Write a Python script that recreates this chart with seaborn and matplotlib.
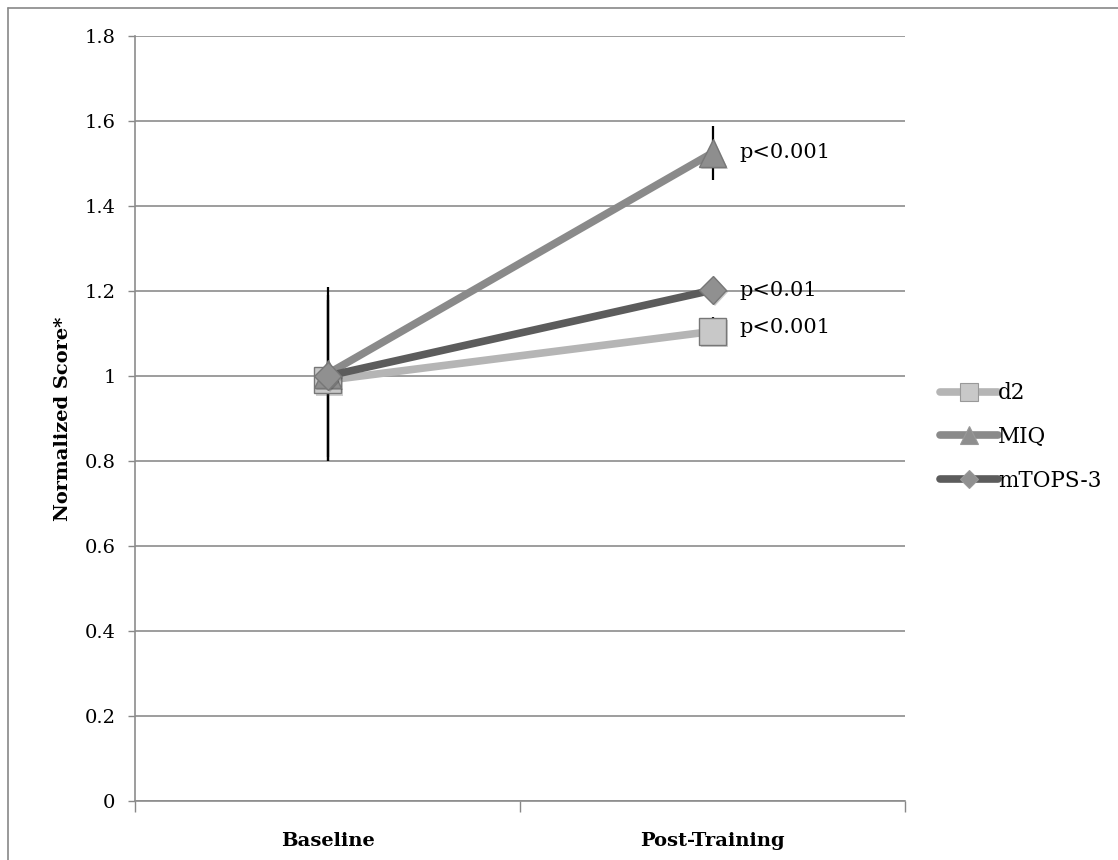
import matplotlib
matplotlib.use("Agg")
import matplotlib.pyplot as plt
import seaborn as sns
import pandas as pd
from matplotlib.lines import Line2D
import matplotlib.patheffects as pe

# ---- data ----
timepoints = ["Baseline", "Post-Training"]
series_names = ["d2", "MIQ", "mTOPS-3"]
d2_vals = [0.99, 1.105]
miq_vals = [1.005, 1.525]
mtops_vals = [1.0, 1.202]
d2_err = [0.19, 0.035]
miq_err = [0.205, 0.063]
mtops_err = [0.19, 0.01]
p_labels = ["p<0.001", "p<0.001", "p<0.01"]  # d2, MIQ, mTOPS-3
y_ticks = [0, 0.2, 0.4, 0.6, 0.8, 1, 1.2, 1.4, 1.6, 1.8]
y_ticklabels = ["0", "0.2", "0.4", "0.6", "0.8", "1", "1.2", "1.4", "1.6", "1.8"]

values = {"d2": d2_vals, "MIQ": miq_vals, "mTOPS-3": mtops_vals}
errors = {"d2": d2_err, "MIQ": miq_err, "mTOPS-3": mtops_err}

rows = []
for s in series_names:
    for i, t in enumerate(timepoints):
        rows.append({"Time": t, "Score": values[s][i], "Series": s})
df = pd.DataFrame(rows)

sns.set_theme(style="white")
plt.rcParams["font.family"] = ["DejaVu Serif"]
plt.rcParams["text.color"] = "black"
plt.rcParams["xtick.color"] = "black"
plt.rcParams["ytick.color"] = "black"
plt.rcParams["axes.labelcolor"] = "black"

colors = {"d2": "#b5b5b5", "MIQ": "#8a8a8a", "mTOPS-3": "#5c5c5c"}
markers = {"d2": "s", "MIQ": "^", "mTOPS-3": "D"}
msizes = {"d2": 19, "MIQ": 20, "mTOPS-3": 14}
mfc = {"d2": "#c8c8c8", "MIQ": "#8e8e8e", "mTOPS-3": "#909090"}
FS = 14

fig = plt.figure(figsize=(11.18, 8.6), dpi=100)
ax = fig.add_axes([135 / 1118, 59 / 860, 770 / 1118, 765 / 860])

# error bars (beneath markers)
for s in series_names:
    ax.errorbar([0, 1], values[s], yerr=errors[s], fmt="none", ecolor="black",
                elinewidth=1.6, capsize=0, zorder=2)

for k, s in enumerate(series_names):
    sub = df[df["Series"] == s]
    sns.lineplot(data=sub, x="Time", y="Score", ax=ax, color=colors[s],
                 linewidth=5.5, marker=markers[s], markersize=msizes[s],
                 markerfacecolor=mfc[s], markeredgecolor="#777777",
                 markeredgewidth=1.0, zorder=3 + k, legend=False,
                 path_effects=[pe.SimplePatchShadow(offset=(1.5, -1.5), alpha=0.25), pe.Normal()])

# p-value labels
ax.text(1.07, values["MIQ"][1], p_labels[1], fontsize=15, va="center", ha="left", zorder=10)
ax.text(1.07, values["mTOPS-3"][1], p_labels[2], fontsize=15, va="center", ha="left", zorder=10)
ax.text(1.07, values["d2"][1] + 0.01, p_labels[0], fontsize=15, va="center", ha="left", zorder=10)

ax.set_xlim(-0.5, 1.5)
ax.set_ylim(0, 1.8)
ax.set_yticks(y_ticks)
ax.set_yticklabels(y_ticklabels, fontsize=FS)
ax.set_xticks([0, 1])
ax.set_xticklabels(timepoints, fontsize=FS, fontweight="bold")
ax.tick_params(axis="x", length=0, pad=22)
ax.tick_params(axis="y", length=5, width=1, color="#888888", direction="out", left=True, pad=9)
ax.set_xticks([-0.5, 0.5, 1.5], minor=True)
ax.tick_params(axis="x", which="minor", length=8, width=1, color="#888888", direction="out", bottom=True)
ax.set_xlabel("")
ax.set_ylabel("Normalized Score*", fontsize=FS, fontweight="bold", labelpad=9)
ax.yaxis.grid(True, color="#8c8c8c", linewidth=1.2)
ax.set_axisbelow(True)
for side in ["top", "right"]:
    ax.spines[side].set_visible(False)
for side in ["left", "bottom"]:
    ax.spines[side].set_color("#8c8c8c")
    ax.spines[side].set_linewidth(1.2)

handles = [Line2D([0], [0], color=colors[s], linewidth=5.5, marker=markers[s],
                  markersize=msizes[s] * 0.65, markerfacecolor=mfc[s],
                  markeredgecolor="#999999", markeredgewidth=0.8)
           for s in series_names]
leg = fig.legend(handles, series_names, loc="center left",
                 bbox_to_anchor=(940 / 1118, 1 - 437 / 860), frameon=False,
                 fontsize=15.5, handlelength=2.7, handletextpad=0.0,
                 labelspacing=1.0, borderaxespad=0, borderpad=0)

# outer frame of the figure
fig.add_artist(Line2D([8 / 1118, 8 / 1118], [0, 1 - 8 / 860], color="#888888",
                      linewidth=1.2, transform=fig.transFigure))
fig.add_artist(Line2D([8 / 1118, 1.0], [1 - 8 / 860, 1 - 8 / 860], color="#888888",
                      linewidth=1.2, transform=fig.transFigure))

fig.savefig("out.png", dpi=100)
